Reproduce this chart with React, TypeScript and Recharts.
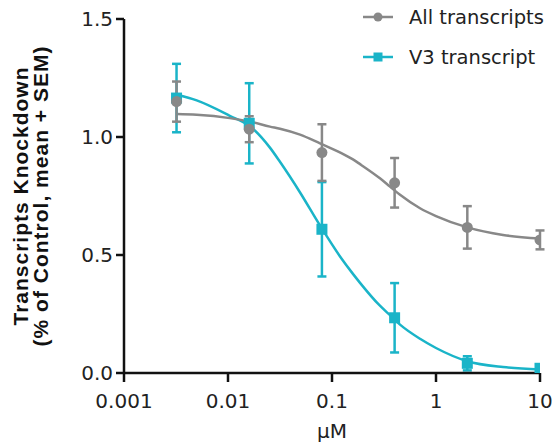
import { ComposedChart, Line, XAxis, YAxis, ErrorBar, Legend } from "recharts";

// doses (µM), 5-fold dilution series
const DOSES = [0.0032, 0.016, 0.08, 0.4, 2, 10];
const ALL_MEAN = [1.15, 1.033, 0.934, 0.806, 0.617, 0.564];
const ALL_SEM = [0.085, 0.055, 0.12, 0.105, 0.09, 0.04];
const V3_MEAN = [1.165, 1.058, 0.609, 0.234, 0.041, 0.02];
const V3_SEM = [0.145, 0.17, 0.2, 0.147, 0.03, 0];

// fitted curves
const CURVE_X = [0.0032, 0.005, 0.0104, 0.0163, 0.0253, 0.0316, 0.0493, 0.0767, 0.119, 0.159, 0.186, 0.289, 0.361, 0.451, 0.702, 1.0, 2.0, 4.41, 10];
const ALL_FIT = [1.097, 1.094, 1.08, 1.065, 1.044, 1.035, 1.01, 0.973, 0.935, 0.905, 0.885, 0.825, 0.79, 0.755, 0.698, 0.665, 0.617, 0.585, 0.57];
const V3_FIT = [1.18, 1.155, 1.09, 1.045, 0.955, 0.895, 0.765, 0.625, 0.495, 0.42, 0.382, 0.285, 0.245, 0.205, 0.145, 0.106, 0.05, 0.025, 0.015];

const X_TICKS = [0.001, 0.01, 0.1, 1, 10];
const Y_TICKS = [0, 0.5, 1, 1.5];

const GRAY = "#888888";
const TEAL = "#1ab4c8";
const TICK_FONT = "'DejaVu Sans', Verdana, sans-serif";

const allPts = DOSES.map((x, i) => ({ x, y: ALL_MEAN[i], err: ALL_SEM[i] }));
const v3Pts = DOSES.map((x, i) => ({ x, y: V3_MEAN[i], err: V3_SEM[i] }));
const allFit = CURVE_X.map((x, i) => ({ x, y: ALL_FIT[i] }));
const v3Fit = CURVE_X.map((x, i) => ({ x, y: V3_FIT[i] }));

const Circle = (p: any) => <circle cx={p.cx} cy={p.cy} r={5.5} fill={GRAY} />;
const Square = (p: any) => <rect x={p.cx - 5.5} y={p.cy - 5.5} width={11} height={11} fill={TEAL} />;

const YLabel = ({ viewBox }: any) => {
  const cy = viewBox.y + viewBox.height / 2;
  const style = { fontFamily: "'Liberation Sans', Arial, sans-serif", fontWeight: 700, fontSize: 21, letterSpacing: 1 };
  return (
    <g>
      <text x={28} y={cy} transform={`rotate(-90 28 ${cy})`} textAnchor="middle" fill="#111" style={style}>
        Transcripts Knockdown
      </text>
      <text x={48} y={cy} transform={`rotate(-90 48 ${cy})`} textAnchor="middle" fill="#111" style={style}>
        (% of Control, mean + SEM)
      </text>
    </g>
  );
};

const XLabel = ({ viewBox }: any) => (
  <text x={viewBox.x + viewBox.width / 2} y={438} textAnchor="middle" fill="#222" style={{ fontFamily: TICK_FONT, fontSize: 20 }}>
    μM
  </text>
);

const LegendBox = () => {
  const rows = [
    { name: "All transcripts", color: GRAY, shape: "circle" },
    { name: "V3 transcript", color: TEAL, shape: "square" },
  ];
  return (
    <div style={{ fontFamily: TICK_FONT, fontSize: 19.5, color: "#222" }}>
      {rows.map((r) => (
        <div key={r.name} style={{ display: "flex", alignItems: "center", height: 40 }}>
          <svg width={32} height={14} style={{ marginRight: 15 }}>
            <line x1={1} y1={7} x2={31} y2={7} stroke={r.color} strokeWidth={2.5} />
            {r.shape === "circle" ? (
              <circle cx={16} cy={7} r={4.5} fill={r.color} />
            ) : (
              <rect x={11.5} y={2.5} width={9} height={9} fill={r.color} />
            )}
          </svg>
          <span>{r.name}</span>
        </div>
      ))}
    </div>
  );
};

export default function App() {
  return (
    <div style={{ position: "absolute", left: 0, top: 0, background: "#fff" }}>
      <ComposedChart width={554} height={446} margin={{ top: 19, right: 14, bottom: 0, left: 0 }}>
        <XAxis
          dataKey="x"
          type="number"
          scale="log"
          domain={[0.001, 10]}
          ticks={X_TICKS}
          allowDataOverflow
          height={73}
          tickFormatter={(v: number) => String(v)}
          tick={{ fill: "#222", fontSize: 20, fontFamily: TICK_FONT }}
          tickSize={9}
          tickMargin={12}
          axisLine={{ stroke: "#111", strokeWidth: 2.5 }}
          tickLine={{ stroke: "#111", strokeWidth: 2.5 }}
          label={<XLabel />}
        />
        <YAxis
          type="number"
          domain={[0, 1.5]}
          ticks={Y_TICKS}
          allowDataOverflow
          width={124}
          tickFormatter={(v: number) => v.toFixed(1)}
          tick={{ fill: "#222", fontSize: 20, fontFamily: TICK_FONT }}
          tickSize={8}
          tickMargin={3}
          axisLine={{ stroke: "#111", strokeWidth: 2.5 }}
          tickLine={{ stroke: "#111", strokeWidth: 2.5 }}
          label={<YLabel />}
        />
        <Legend layout="horizontal" verticalAlign="middle" align="center" wrapperStyle={{ top: -3, left: 362, width: 192 }} content={<LegendBox />} />
        <Line data={v3Fit} dataKey="y" type="monotone" stroke={TEAL} strokeWidth={2.5} dot={false} isAnimationActive={false} legendType="none" />
        <Line data={allFit} dataKey="y" type="monotone" stroke={GRAY} strokeWidth={2.5} dot={false} isAnimationActive={false} legendType="none" />
        <Line data={v3Pts} dataKey="y" stroke="none" dot={<Square />} activeDot={false} isAnimationActive={false} legendType="none">
          <ErrorBar dataKey="err" direction="y" width={4.5} stroke={TEAL} strokeWidth={2.5} />
        </Line>
        <Line data={allPts} dataKey="y" stroke="none" dot={<Circle />} activeDot={false} isAnimationActive={false} legendType="none">
          <ErrorBar dataKey="err" direction="y" width={4.5} stroke={GRAY} strokeWidth={2.5} />
        </Line>
      </ComposedChart>
    </div>
  );
}
